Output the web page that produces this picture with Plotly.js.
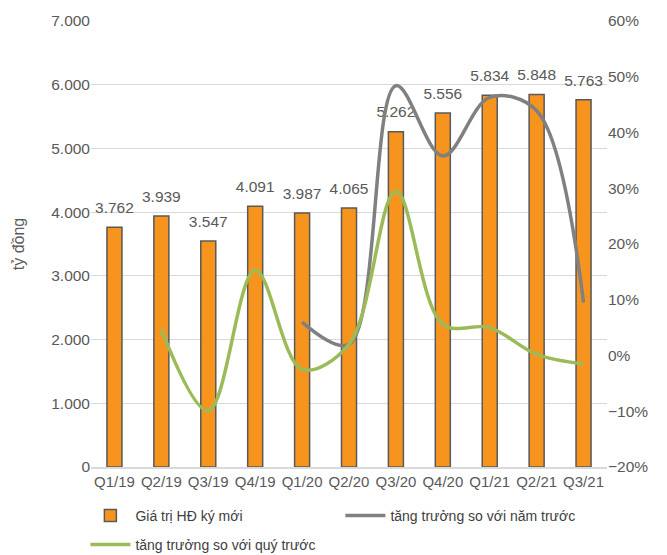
<!DOCTYPE html>
<html>
<head>
<meta charset="utf-8">
<script src="https://cdn.plot.ly/plotly-3.0.1.min.js"></script>
<style>html,body{margin:0;padding:0;background:#fff;}#chart{width:667px;height:555px;}</style>
</head>
<body>
<div id="chart"></div>
<script>
const quarters = ["Q1/19","Q2/19","Q3/19","Q4/19","Q1/20","Q2/20","Q3/20","Q4/20","Q1/21","Q2/21","Q3/21"];
const contractValue = [3762, 3939, 3547, 4091, 3987, 4065, 5262, 5556, 5834, 5848, 5763];
const yoyGrowth = [null, null, null, null, 6.0, 2.0, 48.4, 35.8, 46.3, 43.9, 9.5];
const qoqGrowth = [null, 4.7, -9.9, 15.3, -2.5, 2.0, 29.4, 5.6, 5.0, 0.2, -1.5];

const textColor = "#595959";
const fontFam = "Liberation Sans, Arial, sans-serif";

const traces = [
  {
    type: "bar", name: "Giá trị HĐ ký mới", x: quarters, y: contractValue,
    marker: {color: "#F7941D", line: {color: "#595959", width: 1.5}},
    width: 0.32, legend: "legend"
  },
  {
    type: "scatter", mode: "lines", name: "tăng trưởng so với năm trước",
    x: quarters, y: yoyGrowth, yaxis: "y2", legend: "legend",
    line: {color: "#808080", width: 3.5, shape: "spline", smoothing: 1},
    connectgaps: false
  },
  {
    type: "scatter", mode: "lines", name: "tăng trưởng so với quý trước",
    x: quarters, y: qoqGrowth, yaxis: "y2", legend: "legend2",
    line: {color: "#9BBB59", width: 3.5, shape: "spline", smoothing: 1},
    connectgaps: false
  },
  {
    type: "scatter", mode: "markers+text", x: quarters, y: contractValue,
    texttemplate: "%{y:,d}", textposition: "top center", cliponaxis: false,
    marker: {size: 15, opacity: 0, color: "#ffffff"},
    textfont: {size: 15.5, color: textColor, family: fontFam},
    showlegend: false, hoverinfo: "skip"
  }
];

const legendCommon = {
  orientation: "h", xref: "container", yref: "container",
  xanchor: "left", yanchor: "middle",
  font: {size: 14, color: "#404040"}, traceorder: "normal", itemwidth: 40,
  bgcolor: "rgba(0,0,0,0)"
};

const layout = {
  width: 667, height: 555,
  margin: {l: 91, r: 60, t: 21, b: 88},
  paper_bgcolor: "#fff", plot_bgcolor: "#fff",
  separators: ",.",
  font: {family: fontFam, size: 15, color: textColor},
  showlegend: true,
  legend: Object.assign({}, legendCommon, {x: 0.128, y: (555 - 516) / 555,
           entrywidth: 200, entrywidthmode: "pixels"}),
  legend2: Object.assign({}, legendCommon, {x: 0.128, y: (555 - 545) / 555}),
  xaxis: {
    type: "category", range: [-0.5, quarters.length - 0.5], autorange: false,
    tickfont: {size: 15, color: textColor},
    showline: true, linecolor: "#d9d9d9", linewidth: 1.5, ticks: "", showgrid: false
  },
  yaxis: {
    range: [0, 7000], dtick: 1000, tickformat: ",d",
    gridcolor: "#d9d9d9", gridwidth: 1.2, zeroline: false, showline: false,
    tickfont: {size: 15.5, color: textColor},
    title: {text: "tỷ đồng", font: {size: 16, color: textColor}, standoff: 22}
  },
  yaxis2: {
    overlaying: "y", side: "right", range: [-20, 60], dtick: 10, ticksuffix: "%",
    showgrid: false, zeroline: false, showline: false,
    tickfont: {size: 15.5, color: textColor}
  }
};

Plotly.newPlot("chart", traces, layout, {displayModeBar: false, staticPlot: true});
</script>
</body>
</html>
